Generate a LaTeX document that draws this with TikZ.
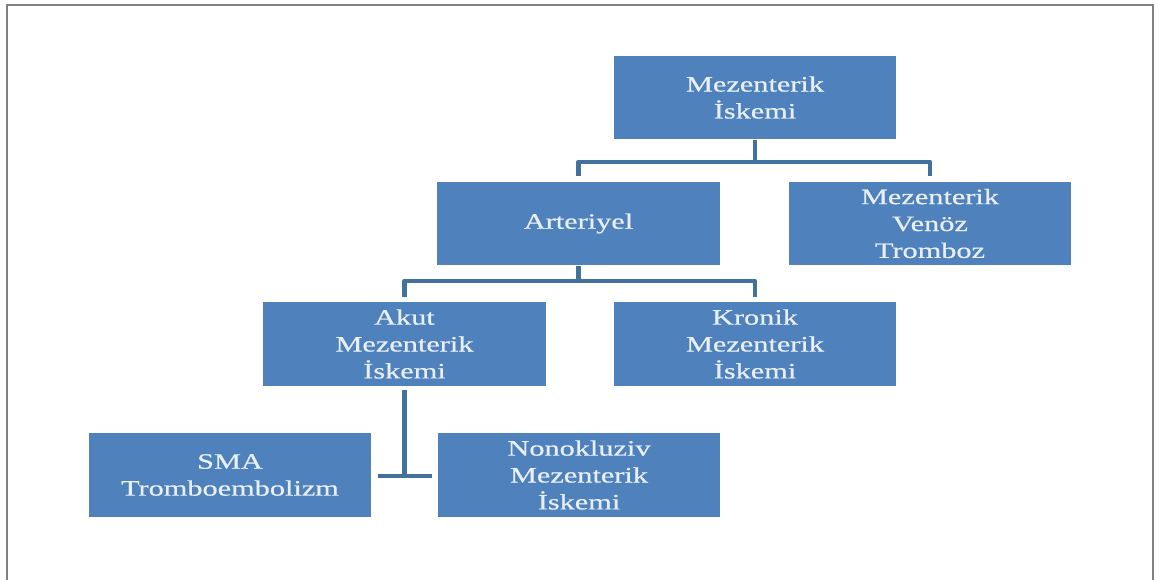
\documentclass[tikz,border=0pt]{standalone}
\usepackage{fontspec}
\setmainfont{Liberation Serif}[FakeStretch=1.38,FakeBold=0.6]
\usepackage{tikz}
\usetikzlibrary{calc}
\definecolor{boxblue}{RGB}{79,129,189}
\definecolor{linkblue}{RGB}{65,113,156}
\definecolor{txtwhite}{RGB}{232,239,248}
\tikzstyle{box} = [rectangle, fill=boxblue, text=txtwhite, minimum width=5.66cm, minimum height=1.68cm, inner sep=0pt, align=center, font=\fontsize{12.5}{15.3}\selectfont]
\tikzstyle{link} = [draw=linkblue, line width=2.6pt, line join=round]

\begin{document}
\begin{tikzpicture}[x=0.02cm,y=-0.02cm]
\useasboundingbox (0,0) rectangle (1159,580);
\draw[gray, line width=1.2pt] (7,580) -- (7,5) -- (1153,5) -- (1153,580);

	\node[box] (top) at (755,97.5) {Mezenterik\\İskemi};
	\node[box] (art) at (578.5,223.5) {Arteriyel};
	\node[box] (ven) at (930,223.5) {Mezenterik\\Venöz\\Tromboz};
	\node[box] (akut) at (404.5,344) {Akut\\Mezenterik\\İskemi};
	\node[box] (kron) at (755,344) {Kronik\\Mezenterik\\İskemi};
	\node[box] (sma) at (230,475) {SMA\\Tromboembolizm};
	\node[box] (non) at (579,475) {Nonokluziv\\Mezenterik\\İskemi};

	\coordinate (b1) at (755,162);
	\coordinate (b2) at (578.5,281);
	\coordinate (t1) at (378,476);
	\coordinate (t2) at (432,476);

    \draw[link, shorten >=0.1cm] (top.south) -- (b1) -| (art.north);
    \draw[link, shorten >=0.1cm] (b1) -| (ven.north);
    \draw[link, shorten >=0.1cm] (art.south) -- (b2) -| (akut.north);
    \draw[link, shorten >=0.1cm] (b2) -| (kron.north);
    \draw[link, shorten <=0.08cm] (akut.south) -- (akut.south |- t1);
    \draw[link] (t1) -- (t2);
\end{tikzpicture}
\end{document}
